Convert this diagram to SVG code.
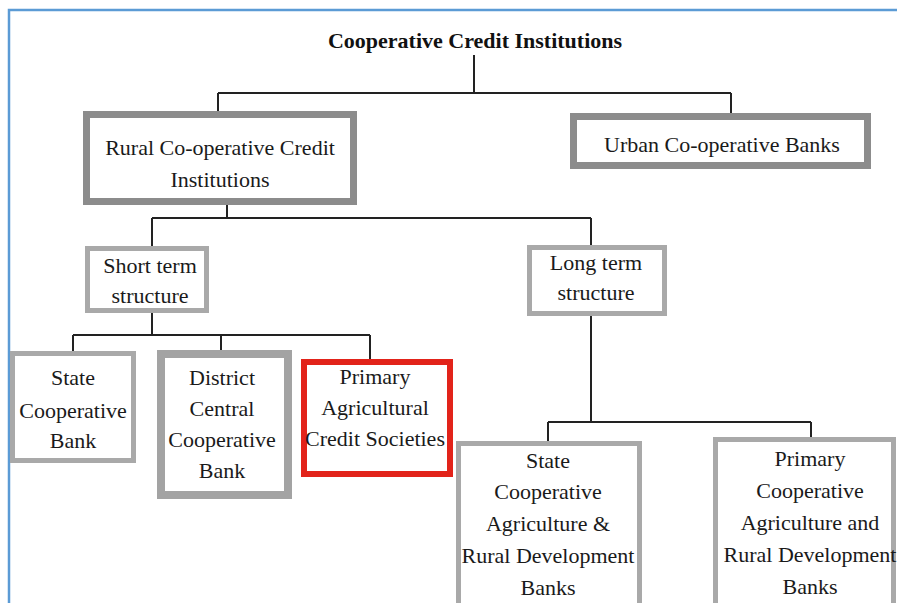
<svg xmlns="http://www.w3.org/2000/svg" width="897" height="603" viewBox="0 0 897 603">
<style>
text{font-size:22px;fill:#1a1a1a;text-anchor:middle}
.title{font-weight:bold;fill:#111}
.b1{fill:#fff;stroke:#8c8c8c;stroke-width:7}
.b2{fill:#fff;stroke:#a9a9a9;stroke-width:5}
.b3{fill:#fff;stroke:#a3a3a3;stroke-width:8}
.red{fill:#fff;stroke:#e2231a;stroke-width:6}
.conn path{fill:none;stroke:#222;stroke-width:2}
</style>
<rect x="0" y="0" width="897" height="603" fill="#fff"/>
<rect x="9" y="10" width="910" height="620" fill="none" stroke="#5b9bd5" stroke-width="2.5"/>
<g font-family="'Liberation Serif', 'DejaVu Serif', serif">
<g id="title"><text class="title" x="475" y="48">Cooperative Credit Institutions</text></g>
<g id="connectors" class="conn">
<path d="M474,55 V93 M218,93 H731 M218,93 V113 M731,93 V116"/>
<path d="M227,205 V218 M152,218 H591 M152,218 V247 M591,218 V246"/>
<path d="M152,313 V335 M73,335 H370 M73,335 V352 M221,335 V351 M370,335 V360"/>
<path d="M591,316 V422 M548,422 H811 M548,422 V442 M811,422 V438"/>
</g>
<g id="rural"><rect class="b1" x="86.5" y="114.5" width="267" height="87"/>
<text x="220" y="155">Rural Co-operative Credit</text><text x="220" y="187">Institutions</text></g>
<g id="urban"><rect class="b1" x="573.5" y="116.5" width="294" height="49"/>
<text x="722" y="152">Urban Co-operative Banks</text></g>
<g id="short"><rect class="b2" x="87.5" y="248.5" width="119" height="62"/>
<text x="150" y="273">Short term</text><text x="150" y="303">structure</text></g>
<g id="long"><rect class="b2" x="529.5" y="247.5" width="135" height="66"/>
<text x="596" y="270">Long term</text><text x="596" y="300">structure</text></g>
<g id="scb"><rect class="b2" x="12.5" y="353.5" width="121" height="107"/>
<text x="73" y="385">State</text><text x="73" y="418">Cooperative</text><text x="73" y="448">Bank</text></g>
<g id="dccb"><rect class="b3" x="161" y="354" width="127" height="141"/>
<text x="222" y="385">District</text><text x="222" y="416">Central</text><text x="222" y="447">Cooperative</text><text x="222" y="478">Bank</text></g>
<g id="pacs"><rect class="red" x="304" y="362" width="146" height="112"/>
<text x="375" y="384">Primary</text><text x="375" y="415">Agricultural</text><text x="375" y="446">Credit Societies</text></g>
<g id="scardb"><rect class="b2" x="458.5" y="443.5" width="181" height="200"/>
<text x="548" y="468">State</text><text x="548" y="499">Cooperative</text><text x="548" y="531">Agriculture &amp;</text><text x="548" y="563">Rural Development</text><text x="548" y="595">Banks</text></g>
<g id="pcardb"><rect class="b2" x="715.5" y="439.5" width="178" height="200"/>
<text x="810" y="466">Primary</text><text x="810" y="498">Cooperative</text><text x="810" y="530">Agriculture and</text><text x="810" y="562">Rural Development</text><text x="810" y="594">Banks</text></g>
</g>
</svg>
